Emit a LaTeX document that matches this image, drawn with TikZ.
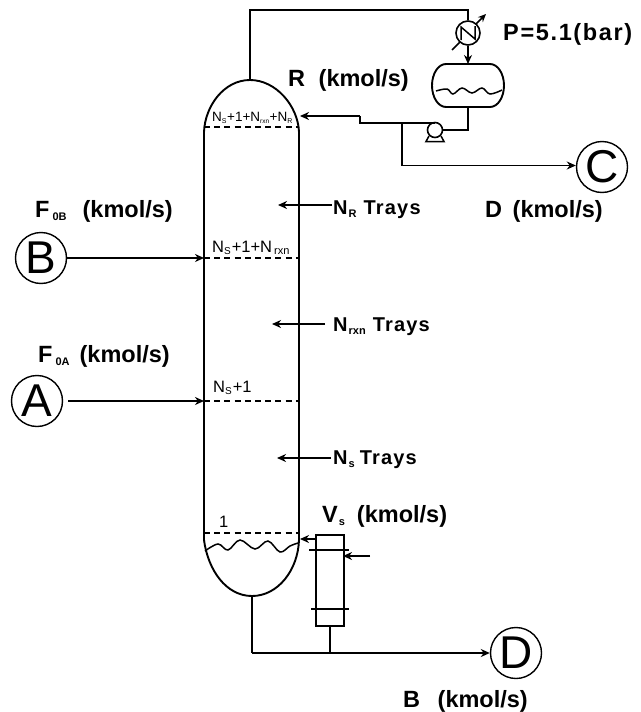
\documentclass[tikz,border=0pt]{standalone}
\usepackage{fontspec}
\setmainfont{Liberation Sans}
\usetikzlibrary{arrows.meta}
\newcommand{\bigbold}{\fontsize{23.5}{24}\selectfont\bfseries}
\newcommand{\subbold}[1]{\raisebox{-3pt}{\fontsize{11}{11}\selectfont\bfseries #1}}
\newcommand{\trsub}[2][10]{\raisebox{-2.5pt}{\fontsize{#1}{#1}\selectfont #2}}
\tikzset{
  x=1pt,y=-1pt,
  pipe/.style={line width=1.8pt,line join=miter},
  flow/.style={pipe,-{Stealth[length=9pt,width=8pt]}},
  vessel/.style={line width=1.9pt},
  tray/.style={line width=1.6pt,dash pattern=on 6pt off 4.2pt},
  feed/.style={circle,draw,line width=1.4pt,minimum size=51pt,inner sep=0pt,font=\fontsize{46}{46}\selectfont},
  lab/.style={anchor=base west,inner sep=0pt,font=\bigbold},
  traylab/.style={anchor=base west,inner sep=0pt,font=\fontsize{16.5}{17}\selectfont},
  traysfont/.style={font=\fontsize{20}{20}\selectfont\bfseries},
}
\begin{document}
\begin{tikzpicture}
\useasboundingbox (0,0) rectangle (640,712);
% feed and product circles
\node[feed] (B) at (41,258) {B};
\node[feed] (A) at (37,401) {A};
\node[feed] (C) at (602,167) {C};
\node[feed] (D) at (516,653) {D};
% column
\coordinate (apex) at (250,80);
\coordinate (base) at (252,596);
\coordinate (fB) at (204,258);
\coordinate (fA) at (204,401);
\coordinate (refl) at (300,116);
\draw[vessel] (204,132) .. controls (205,106) and (224,80) .. (apex)
   .. controls (276,80) and (298,106) .. (299,132)
   -- (299,540) .. controls (298,570) and (278,596) .. (base)
   .. controls (226,596) and (208,570) .. (204,540) -- cycle;
\draw[tray] (204,127) -- (299,127);
\draw[tray] (204,258) -- (299,258);
\draw[tray] (204,401) -- (299,401);
\draw[tray] (204,533) -- (299,533);
\draw[line width=1.5pt] plot[smooth,tension=0.6] coordinates {(205,551) (218,544) (228,550) (240,540) (255,549) (268,541) (280,552) (290,546) (298,543)};
% overhead
\coordinate (ovA) at (250,10);
\coordinate (ovB) at (468,10);
\node[circle,draw,line width=1.6pt,minimum size=24pt,inner sep=0pt] (cond) at (468,33) {};
\draw[pipe] (apex) -- (ovA) -- (ovB) -- (cond.north);
\draw[line width=1.5pt] (461,40) -- (461,27) -- (475,39) -- (475,26);
\draw[line width=1.5pt] (452,50) -- (460,42);
\draw[line width=1.5pt,-{Stealth[length=8pt,width=7pt]}] (476,24) -- (486,14);
% reflux drum
\coordinate (drumT) at (468,64);
\coordinate (drumB) at (468,107);
\draw[vessel] (446,64) -- (490,64) .. controls (498,64) and (504,74) .. (504,85.5)
  .. controls (504,97) and (498,107) .. (490,107) -- (446,107)
  .. controls (438,107) and (432,97) .. (432,85.5) .. controls (432,74) and (438,64) .. (446,64) -- cycle;
\draw[line width=1.5pt] plot[smooth,tension=0.6] coordinates {(436,91) (447,89) (453,94) (462,88) (472,93) (482,88) (490,94) (502,90)};
\draw[flow] (cond.south) -- (drumT);
% pump
\node[circle,draw,line width=1.6pt,minimum size=15pt,inner sep=0pt] (pump) at (435,130) {};
\coordinate (pumpTop) at (435,123);
\coordinate (dr1) at (468,130);
\draw[pipe] (drumB) -- (dr1) -- (pump.east);
\draw[line width=1.5pt] (429,136) -- (426,141.5) -- (444,141.5) -- (441,136);
% reflux line
\coordinate (r1) at (360,123);
\coordinate (r2) at (360,116);
\coordinate (split) at (402,123);
\coordinate (d1) at (402,165.5);
\draw[pipe] (pumpTop) -- (r1) -- (r2);
\draw[flow] (r2) -- (refl);
\draw[pipe] (split) -- (d1);
\draw[flow] (d1) -- (C.west |- d1);
% feeds
\draw[flow] (B.east) -- (fB);
\draw[flow] (68,401) -- (fA);
\draw[pipe] (204,258) -- (210,258);
\draw[pipe] (204,401) -- (210,401);
% tray arrows
\coordinate (nrS) at (332,205); \coordinate (nrE) at (278,205);
\coordinate (nxS) at (325,324); \coordinate (nxE) at (272,324);
\coordinate (nsS) at (331,458); \coordinate (nsE) at (277,458);
\draw[flow] (nrS) -- (nrE);
\draw[flow] (nxS) -- (nxE);
\draw[flow] (nsS) -- (nsE);
% reboiler
\node[draw,line width=1.7pt,minimum width=28pt,minimum height=91pt,inner sep=0pt,anchor=north west] (reb) at (315,534) {};
\draw[line width=1.6pt] (309,550) -- (349,550);
\draw[line width=1.6pt] (311,609) -- (349,609);
\coordinate (rv) at (300,539);
\coordinate (rvS) at (315,539);
\coordinate (stm) at (370,556);
\coordinate (stmE) at (343,556);
\draw[flow] (rvS) -- (rv);
\draw[flow] (stm) -- (stmE);
\coordinate (bt1) at (252,653);
\coordinate (bt2) at (330,653);
\draw[pipe] (base) -- (bt1);
\draw[flow] (bt1) -- (D.west |- bt1);
\draw[pipe] (reb.south -| bt2) -- (bt2);
% labels
\node[lab] (lP) at (503,40) {\addfontfeature{LetterSpace=7}P=5.1(bar)};
\node[lab] (lR) at (288,86) {R\hspace{7pt} (kmol/s)};
\node[lab] (lFB) at (35,217) {F\hspace{3pt}\subbold{0B}\hspace{16pt}(kmol/s)};
\node[lab] (lFA) at (38,362) {F\hspace{3pt}\subbold{0A}\hspace{10pt}(kmol/s)};
\node[lab] (lD) at (485,217) {D\hspace{4pt} (kmol/s)};
\node[lab] (lV) at (322,522) {V\hspace{1pt}\subbold{s}\hspace{12pt}(kmol/s)};
\node[lab] (lB) at (403,707) {B\hspace{11pt} (kmol/s)};
\node[lab,traysfont] (lNR) at (333,214) {N\hspace{1pt}\subbold{R}\hspace{7pt}{\addfontfeature{LetterSpace=6}Trays}};
\node[lab,traysfont] (lNX) at (333,331) {N\hspace{1pt}\subbold{rxn}\hspace{7pt}{\addfontfeature{LetterSpace=6}Trays}};
\node[lab,traysfont] (lNS) at (333,464) {N\hspace{1pt}\subbold{s}\hspace{5pt}{\addfontfeature{LetterSpace=6}Trays}};
\node[traylab] (t1) at (212,252) {N\trsub{S}\hspace{1pt}+1+N\hspace{2pt}\trsub[11]{rxn}\hspace{1pt}};
\node[traylab] (t2) at (213,392) {N\trsub{S}\hspace{1pt}+1};
\node[traylab] (t3) at (219,527) {1};
\node[traylab,font=\fontsize{13.5}{14}\selectfont] (t4) at (212,121) {N\trsub[7]{S}\hspace{0.5pt}+1+N\trsub[6.5]{rxn}\hspace{0.5pt}+N\trsub[7]{R}};
\end{tikzpicture}
\end{document}
